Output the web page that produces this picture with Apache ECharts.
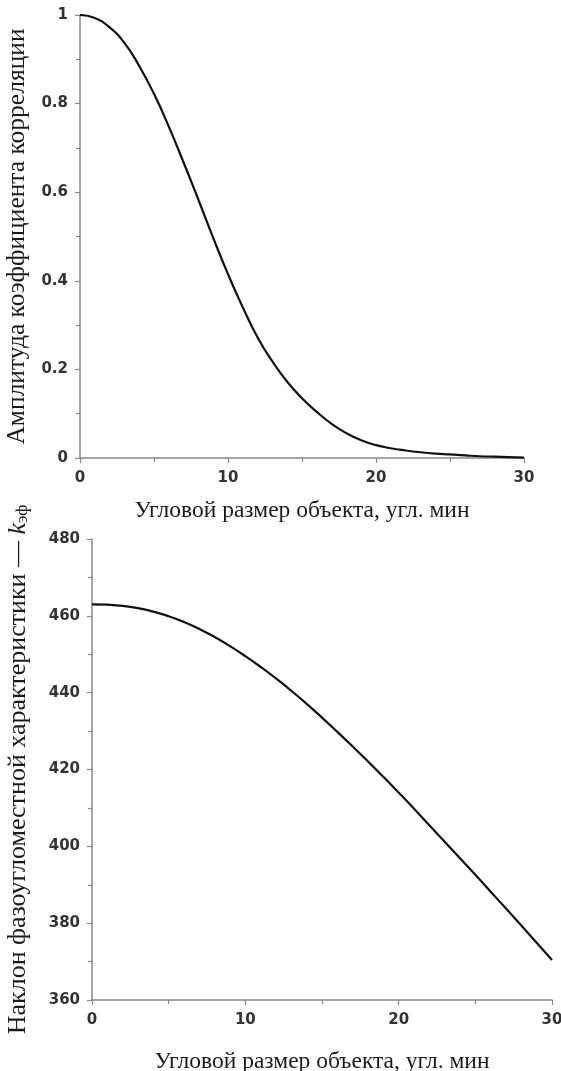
<!DOCTYPE html>
<html>
<head>
<meta charset="utf-8">
<script src="https://cdn.jsdelivr.net/npm/echarts@6/dist/echarts.min.js"></script>
<style>
html,body{margin:0;padding:0;background:#fff;}
#c{width:561px;height:1071px;}
</style>
</head>
<body>
<div id="c"></div>
<script>
// Angular size of the object, arc minutes
const xValues = [0,1,2,3,4,5,6,7,8,9,10,11,12,13,14,15,16,17,18,19,20,21,22,23,24,25,26,27,28,29,30];
// Top: amplitude of the correlation coefficient
const amplitude = [1.000,0.993,0.972,0.937,0.885,0.822,0.748,0.667,0.583,0.497,0.415,0.340,0.272,0.218,0.172,0.135,0.104,0.077,0.056,0.040,0.029,0.022,0.017,0.013,0.010,0.008,0.006,0.004,0.003,0.002,0.001];
// Bottom: slope of the phase-angle characteristic k_эф
const slope = [463.0,462.9,462.6,462.0,461.1,459.9,458.4,456.6,454.5,452.1,449.5,446.7,443.7,440.5,437.1,433.5,429.8,426.0,422.1,418.1,414.0,409.8,405.5,401.2,396.9,392.6,388.2,383.8,379.4,374.9,370.4];

const xTicks = [0,10,20,30];
const topYTicks = [0,0.2,0.4,0.6,0.8,1];
const botYTicks = [360,380,400,420,440,460,480];

const xTitle = 'Угловой размер объекта, угл. мин';
const topYTitle = 'Амплитуда коэффициента корреляции';
const botYTitle = 'Наклон фазоугломестной характеристики — {k|k}{sub|эф}';

const axisColor = '#888';
const labelStyle = {fontFamily:'DejaVu Sans', fontWeight:'bold', fontSize:15, color:'#333'};
function nameStyle(size){ return {fontFamily:'Liberation Serif', fontSize:size, color:'#1a1a1a'}; }

function xAxisCfg(gridIndex, gap){
  return {
    type:'value', gridIndex, min:0, max:30, interval:10,
    name:xTitle, nameLocation:'middle', nameGap:gap, nameTextStyle:nameStyle(23.5),
    axisLine:{show:true, lineStyle:{color:axisColor, width:1.5}},
    axisTick:{show:true, inside:false, length:5, lineStyle:{color:axisColor, width:1.2}},
    minorTick:{show:true, splitNumber:2, length:4, lineStyle:{color:axisColor, width:1.2}},
    splitLine:{show:false},
    axisLabel:Object.assign({margin:13, formatter:v=>xTicks.indexOf(v)>=0 ? String(v) : ''}, labelStyle)
  };
}
function yAxisCfg(gridIndex, min, max, interval, name, gap, size, fmt, rich){
  const ns = nameStyle(size);
  if (rich) ns.rich = rich;
  return {
    type:'value', gridIndex, min, max, interval,
    name, nameLocation:'middle', nameGap:gap, nameRotate:90, nameTextStyle:ns,
    axisLine:{show:true, onZero:false, lineStyle:{color:axisColor, width:1.5}},
    axisTick:{show:true, inside:false, length:5, lineStyle:{color:axisColor, width:1.2}},
    minorTick:{show:true, splitNumber:2, length:4, lineStyle:{color:axisColor, width:1.2}},
    splitLine:{show:false},
    axisLabel:Object.assign({margin:12, formatter:fmt}, labelStyle)
  };
}

const topData = xValues.map((x,i)=>[x, amplitude[i]]);
const botData = xValues.map((x,i)=>[x, slope[i]]);

const chart = echarts.init(document.getElementById('c'), null, {renderer:'canvas'});
chart.setOption({
  animation:false,
  backgroundColor:'#fff',
  grid:[
    {left:80, right:37, top:15, height:443, containLabel:false, outerBoundsMode:'none'},
    {left:92, right:9, top:539, height:461, containLabel:false, outerBoundsMode:'none'}
  ],
  xAxis:[ xAxisCfg(0, 41), xAxisCfg(1, 50) ],
  yAxis:[
    yAxisCfg(0, 0, 1, 0.2, topYTitle, 49, 25.5, v=>{const r=Math.round(v*10)/10; return topYTicks.indexOf(r)>=0 ? String(r) : '';}),
    yAxisCfg(1, 360, 480, 20, botYTitle, 61, 26, v=>botYTicks.indexOf(v)>=0 ? String(v) : '',
      {k:{fontFamily:'Liberation Serif', fontStyle:'italic', fontSize:26, color:'#1a1a1a'},
       sub:{fontFamily:'Liberation Serif', fontSize:17, color:'#1a1a1a', padding:[9,0,0,0]}})
  ],
  series:[
    {type:'line', xAxisIndex:0, yAxisIndex:0, data:topData, smooth:true, showSymbol:false,
     lineStyle:{color:'#111', width:2.2}},
    {type:'line', xAxisIndex:1, yAxisIndex:1, data:botData, smooth:true, showSymbol:false,
     lineStyle:{color:'#111', width:2.2}}
  ]
});
</script>
</body>
</html>
